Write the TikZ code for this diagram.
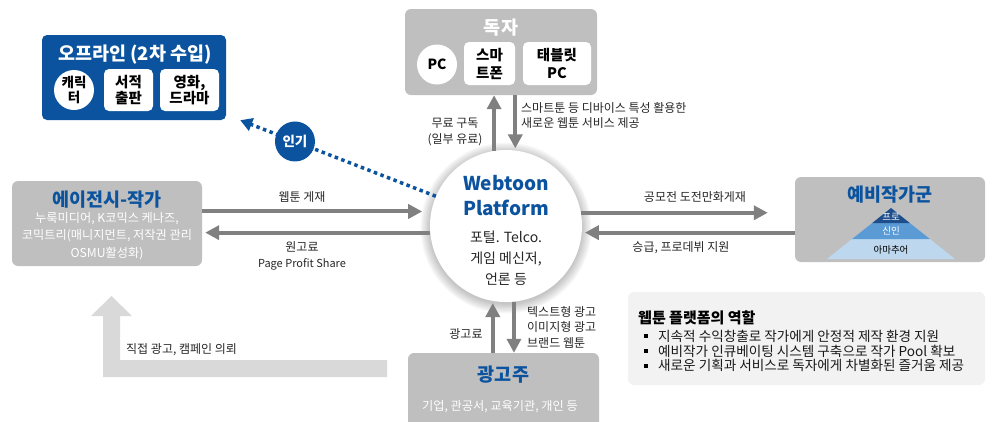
\documentclass[tikz,border=0pt]{standalone}
\usepackage{fontspec}
\setmainfont{Noto Sans CJK KR}
\usetikzlibrary{arrows.meta}
\definecolor{kblue}{HTML}{0B539E}
\definecolor{boxgray}{HTML}{BFBFBF}
\definecolor{arrgray}{HTML}{808080}
\definecolor{lightg}{HTML}{D9D9D9}
\definecolor{noteg}{HTML}{F2F2F2}
\definecolor{txt}{HTML}{262626}
\definecolor{pyrA}{HTML}{1F4E8C}
\definecolor{pyrB}{HTML}{5B9BD5}
\definecolor{pyrC}{HTML}{BDD7EE}
\tikzset{
 gbox/.style={fill=boxgray, rounded corners=6pt, inner sep=0pt},
 wbox/.style={fill=white, rounded corners=5pt, inner sep=0pt, align=center, font=\fontsize{14.5}{15.5}\selectfont\bfseries, text=black},
 wcirc/.style={circle, fill=white, inner sep=0pt, align=center, font=\fontsize{13.5}{15}\selectfont\bfseries, text=black},
 ttl/.style={font=\fontsize{18.5}{20}\selectfont\bfseries, text=kblue, inner sep=0pt},
 lbl/.style={font=\fontsize{12}{15.5}\selectfont, text=txt, inner sep=0pt, align=center},
 subt/.style={font=\fontsize{12.2}{17.5}\selectfont, text=white, inner sep=0pt, align=center},
 notetxt/.style={font=\fontsize{13.6}{15}\selectfont, text=black!90, inner sep=0pt, anchor=west},
 bul/.style={fill=black, minimum size=4pt, inner sep=0pt},
 arr/.style={draw=arrgray, line width=4pt, -{Triangle[length=14pt,width=14pt]}},
 dotarr/.style={draw=kblue, line width=3.5pt, dash pattern=on 3.5pt off 3.5pt, -{Triangle[length=12pt,width=13pt,fill=kblue]}},
}
\begin{document}
\begin{tikzpicture}[x=1pt,y=-1pt]
\useasboundingbox (0,0) rectangle (997,421);

% light L arrow
\fill[lightg] (103,377) -- (387,377) -- (387,360) -- (120,360) -- (120,316) -- (132,316) -- (111.5,296) -- (91,316) -- (103,316) -- cycle;
\node[lbl, anchor=west] (direct) at (126,350) {직접 광고, 캠페인 의뢰};

% offline box
\node[fill=kblue, rounded corners=5pt, minimum width=184pt, minimum height=85pt, inner sep=0pt] (offline) at (134,77.5) {};
\node[font=\fontsize{18.5}{20}\selectfont\bfseries, text=white, inner sep=0pt] (offt) at (135,55) {오프라인 (2차 수입)};
\node[wcirc, minimum size=40pt] (chr) at (74,90) {캐릭\\터};
\node[wbox, minimum width=49pt, minimum height=42pt] (book) at (128.5,90) {서적\\출판};
\node[wbox, minimum width=59pt, minimum height=42pt] (movie) at (189.5,90) {영화,\\드라마};

% reader box
\node[gbox, minimum width=192pt, minimum height=86pt] (reader) at (501,52) {};
\node[ttl, text=white] (readert) at (501,28) {독자};
\node[wcirc, minimum size=40pt, font=\fontsize{14}{15}\selectfont\bfseries] (pc) at (437,64.5) {PC};
\node[wbox, minimum width=51pt, minimum height=43pt, font=\fontsize{14.5}{18}\selectfont\bfseries] (phone) at (489.5,63.5) {스마\\트폰};
\node[wbox, minimum width=68pt, minimum height=43pt, font=\fontsize{14.5}{18}\selectfont\bfseries] (tablet) at (557,63.5) {태블릿\\PC};

% agency box
\node[gbox, minimum width=190pt, minimum height=85pt] (agency) at (107,223.5) {};
\node[ttl] (agencyt) at (107,200) {에이전시-작가};
\node[subt] (agencys) at (107,236) {누룩미디어, K코믹스 케나즈,\\코믹트리(매니지먼트, 저작권 관리\\OSMU활성화)};

% prospective writers box
\node[gbox, minimum width=190pt, minimum height=85pt] (pros) at (890,219.5) {};
\node[ttl] (prost) at (890,195) {예비작가군};
\fill[pyrC] (827,259) -- (955,259) -- (929.9,239) -- (852.1,239) -- cycle;
\fill[pyrB] (852.1,239) -- (929.9,239) -- (909.8,223) -- (872.2,223) -- cycle;
\fill[pyrA] (872.2,223) -- (909.8,223) -- (891,208) -- cycle;
\node[font=\fontsize{9.5}{11}\selectfont, text=white, inner sep=0pt] (pro) at (891,217) {프로};
\node[font=\fontsize{9.5}{11}\selectfont, text=white, inner sep=0pt] (new) at (891,231) {신인};
\node[font=\fontsize{9.5}{11}\selectfont, text=black, inner sep=0pt] (ama) at (891,250) {아마추어};

% advertiser box
\node[gbox, minimum width=191pt, minimum height=80pt] (adv) at (503.5,393) {};
\node[ttl] (advt) at (503.5,375) {광고주};
\node[subt, font=\fontsize{12.2}{14}\selectfont] (advs) at (500,407) {기업, 관공서, 교육기관, 개인 등};

% platform circle with soft shadow
\foreach \i in {1,...,8} {\pgfmathsetmacro{\rr}{75+\i*1.3}
  \fill[black, opacity=0.03] (506,228) circle[radius=\rr pt];}
\node[circle, fill=white, minimum size=152pt, inner sep=0pt] (plat) at (506,226) {};
\node[font=\fontsize{19}{25}\selectfont\bfseries, text=kblue, align=center, inner sep=0pt] (platt) at (506,196) {Webtoon\\Platform};
\node[font=\fontsize{14}{21}\selectfont, text=txt, align=center, inner sep=0pt] (plats) at (506,258) {포털. Telco.\\게임 메신저,\\언론 등};

% arrows
\draw[arr, shorten >=9pt] (agency.east |- plat.169.4) -- (plat.169.4);
\draw[arr, shorten >=3pt] (plat.185.3) -- (agency.east |- plat.185.3);
\draw[arr, shorten >=27pt] (plat.10.6) -- (pros.west |- plat.10.6);
\draw[arr, shorten >=3pt] (pros.west |- plat.-5.3) -- (plat.-5.3);
\draw[arr] (plat.99.85) -- (reader.south -| plat.99.85);
\draw[arr, shorten >=2pt] (reader.south -| plat.83.2) -- (plat.83.2);
\draw[arr, shorten >=2pt] (adv.north -| plat.260.9) -- (plat.260.9);
\draw[arr] (plat.276.8) -- (adv.north -| plat.276.8);

% popularity dotted arrow
\coordinate (popend) at ([xshift=14pt]offline.south east);
\draw[dotarr] (plat.157.8) -- node[pos=0.72, circle, fill=kblue, minimum size=40pt, inner sep=0pt, text=white, font=\fontsize{13.5}{14}\selectfont\bfseries] (pop) {인기} (popend);

% labels
\node[lbl] (free) at (455,132) {무료 구독\\(일부 유료)};
\node[lbl, align=left, anchor=west] (smart) at (521,115.5) {스마트툰 등 디바이스 특성 활용한\\새로운 웹툰 서비스 제공};
\node[lbl] (post) at (302,197) {웹툰 게재};
\node[lbl] (fee) at (302,256) {원고료\\{\fontsize{11}{15.5}\selectfont Page Profit Share}};
\node[lbl] (contest) at (695,197) {공모전 도전만화게재};
\node[lbl] (promo) at (681,248) {승급, 프로데뷔 지원};
\node[lbl] (adfee) at (466,334) {광고료};
\node[lbl, align=left, anchor=west] (adtype) at (527,327) {텍스트형 광고\\이미지형 광고\\브랜드 웹툰};

% note box
\node[fill=noteg, rounded corners=6pt, minimum width=357pt, minimum height=93pt, inner sep=0pt] (note) at (806.5,338.5) {};
\node[font=\fontsize{15}{16}\selectfont\bfseries, text=black, inner sep=0pt, anchor=west] (notet) at (638,318) {웹툰 플랫폼의 역할};
\node[bul] (b1) at (646,336) {};
\node[bul] (b2) at (646,351) {};
\node[bul] (b3) at (646,365.5) {};
\node[notetxt] (n1) at (658,336) {지속적 수익창출로 작가에게 안정적 제작 환경 지원};
\node[notetxt] (n2) at (658,351) {예비작가 인큐베이팅 시스템 구축으로 작가 Pool 확보};
\node[notetxt] (n3) at (658,365.5) {새로운 기획과 서비스로 독자에게 차별화된 즐거움 제공};
\end{tikzpicture}
\end{document}
